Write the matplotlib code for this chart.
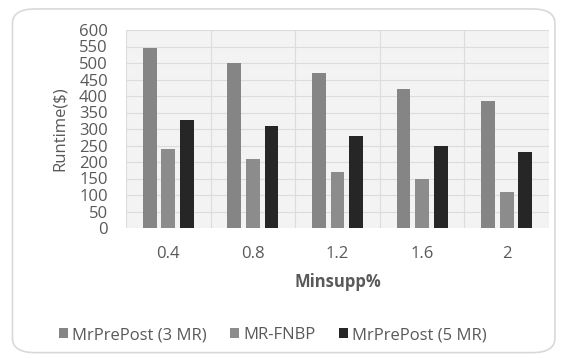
import numpy as np
import matplotlib.pyplot as plt
from matplotlib.patches import FancyBboxPatch

# data
minsupp = ['0.4', '0.8', '1.2', '1.6', '2']
series_names = ['MrPrePost (3 MR)', 'MR-FNBP', 'MrPrePost (5 MR)']
mrprepost_3 = [545, 500, 470, 420, 385]
mr_fnbp = [240, 210, 170, 150, 110]
mrprepost_5 = [328, 310, 280, 248, 230]

plt.rcParams['font.family'] = ['Open Sans', 'DejaVu Sans']
plt.rcParams['hatch.color'] = '#555555'
plt.rcParams['hatch.linewidth'] = 0.4

fig = plt.figure(figsize=(5.68, 3.58), dpi=100)
frame = FancyBboxPatch((0.022, 0.015), 0.955, 0.96, boxstyle='round,pad=0,rounding_size=0.04',
                       transform=fig.transFigure, facecolor='none', edgecolor='#d9d9d9',
                       lw=1.2, zorder=-1)
fig.patches.append(frame)

ax = fig.add_axes([126 / 568, 1 - 228 / 358, 423 / 568, 198 / 358])
ax.set_facecolor('#f3f3f3')

x = np.arange(len(minsupp))
w = 0.165
step = 0.22
ax.bar(x - step, mrprepost_3, w, color='#858585', label=series_names[0], zorder=3)
ax.bar(x, mr_fnbp, w, color='#8c8c8c', label=series_names[1], zorder=3)
ax.bar(x + step, mrprepost_5, w, color='#262626', hatch='.....', edgecolor='#262626',
       lw=0, label=series_names[2], zorder=3)

ax.set_xlim(-0.5, len(minsupp) - 0.5)
ax.set_ylim(0, 600)
ax.set_yticks(range(0, 601, 50))
ax.set_xticks(x)
ax.set_xticklabels(minsupp)
ax.set_xticks(np.arange(-0.5, len(minsupp), 1), minor=True)
ax.grid(axis='y', color='#dcdcdc', lw=0.8, zorder=0)
ax.grid(axis='x', which='minor', color='#dcdcdc', lw=0.8, zorder=0)
ax.tick_params(which='both', length=0)
ax.tick_params(axis='y', labelsize=12, labelcolor='#595959', pad=13)
ax.tick_params(axis='x', labelsize=12, labelcolor='#595959', pad=13)
for s in ax.spines.values():
    s.set_visible(False)

ax.set_ylabel('Runtime($)', fontsize=12, color='#595959', labelpad=8)
ax.set_xlabel('Minsupp%', fontsize=12, color='#595959', fontweight='bold', labelpad=8)

fig.legend(loc='lower center', bbox_to_anchor=(0.48, 0.0), ncol=3, frameon=False,
           fontsize=12, handlelength=0.55, handleheight=0.55, handletextpad=0.25,
           columnspacing=1.4, labelcolor='#595959')

fig.savefig('out.png', dpi=100)
